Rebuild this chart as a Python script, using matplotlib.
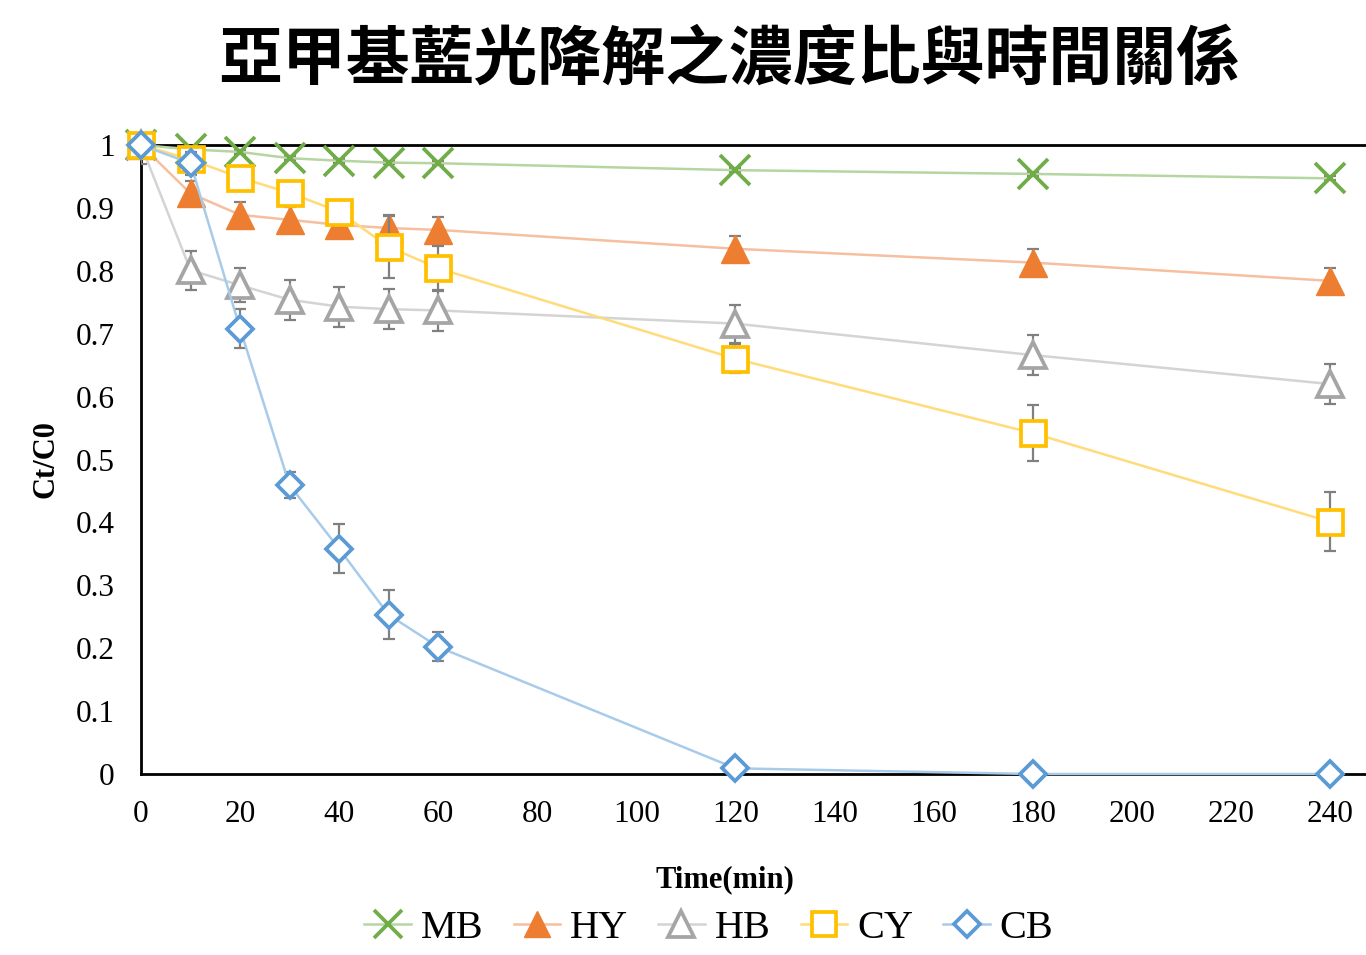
import matplotlib

matplotlib.use("Agg")
import matplotlib.pyplot as plt
import numpy as np

# ── data ────────────────────────────────────────────────────────────────
time_min = [0, 10, 20, 30, 40, 50, 60, 120, 180, 240]

mb = [1.0, 0.993, 0.989, 0.979, 0.975, 0.972, 0.971, 0.960, 0.954, 0.947]
mb_err = [0, 0.003, 0.003, 0.003, 0.003, 0.003, 0.003, 0.003, 0.003, 0.003]

hy = [1.0, 0.923, 0.889, 0.881, 0.873, 0.868, 0.865, 0.835, 0.813, 0.784]
hy_err = [0, 0.019, 0.02, 0.02, 0.02, 0.019, 0.02, 0.02, 0.021, 0.021]

hb = [1.0, 0.801, 0.777, 0.754, 0.743, 0.739, 0.737, 0.716, 0.666, 0.620]
hb_err = [0.03, 0.031, 0.027, 0.032, 0.032, 0.032, 0.032, 0.03, 0.032, 0.032]

cy = [1.0, 0.977, 0.948, 0.924, 0.894, 0.838, 0.804, 0.660, 0.542, 0.401]
cy_err = [0, 0.01, 0.01, 0.01, 0.015, 0.05, 0.036, 0.023, 0.044, 0.047]

cb = [1.0, 0.971, 0.708, 0.459, 0.358, 0.253, 0.202, 0.009, 0.0, 0.0]
cb_err = [0, 0.018, 0.031, 0.021, 0.039, 0.039, 0.023, 0, 0, 0]

names = ["MB", "HY", "HB", "CY", "CB"]
title = "亞甲基藍光降解之濃度比與時間關係"

x_ticks = list(range(0, 241, 20))
y_ticks = [0, 0.1, 0.2, 0.3, 0.4, 0.5, 0.6, 0.7, 0.8, 0.9, 1.0]
y_labels = ["0", "0.1", "0.2", "0.3", "0.4", "0.5", "0.6", "0.7", "0.8", "0.9", "1"]

# ── styles ──────────────────────────────────────────────────────────────
SERIF = ["Liberation Serif", "DejaVu Serif"]
styles = [
    dict(marker="x", ms=21, mew=2.7, mec="#70ad47", mfc="#70ad47", line="#b5d6a0"),
    dict(marker="^", ms=20, mew=1.0, mec="#ed7d31", mfc="#ed7d31", line="#f6bfa0"),
    dict(marker="^", ms=19, mew=2.7, mec="#a5a5a5", mfc="white", line="#d4d4d4"),
    dict(marker="s", ms=18, mew=2.7, mec="#ffc000", mfc="white", line="#ffdb7a"),
    dict(marker="D", ms=13.5, mew=2.7, mec="#5b9bd5", mfc="white", line="#a9cbea"),
]
series = [(mb, mb_err), (hy, hy_err), (hb, hb_err), (cy, cy_err), (cb, cb_err)]

# ── plot ────────────────────────────────────────────────────────────────
fig = plt.figure(figsize=(13.66, 9.55), dpi=100)
ax = fig.add_axes([141 / 1366, 181 / 955, 1225 / 1366, 629 / 955])

handles = []
for i, ((vals, errs), st, name) in enumerate(zip(series, styles, names)):
    z = 3 + i * 2
    ax.errorbar(time_min, vals, yerr=errs, fmt="none", ecolor="#808080",
                elinewidth=1.6, capsize=4.5, capthick=1.6, zorder=z)
    h, = ax.plot(time_min, vals, color=st["line"], lw=1.8,
                 marker=st["marker"], ms=st["ms"], mew=st["mew"],
                 mec=st["mec"], mfc=st["mfc"], zorder=z + 1,
                 label=name, clip_on=False)
    handles.append(h)

ax.set_xlim(0, 1225 / (1189 / 240))
ax.set_ylim(0, 1)
ax.set_xticks(x_ticks)
ax.set_yticks(y_ticks)
ax.set_yticklabels(y_labels)
ax.tick_params(axis="both", length=0, labelsize=22.5)
ax.tick_params(axis="y", pad=19)
ax.tick_params(axis="x", pad=19)
for lab in ax.get_xticklabels() + ax.get_yticklabels():
    lab.set_family(SERIF)

for side in ["left", "bottom", "top"]:
    ax.spines[side].set_linewidth(2)
    ax.spines[side].set_color("black")
ax.spines["right"].set_visible(False)

ax.set_xlabel("Time(min)", family=SERIF, fontsize=22, fontweight="bold")
ax.xaxis.set_label_coords(0.4767, -0.145)
ax.set_ylabel("Ct/C0", family=SERIF, fontsize=22, fontweight="bold")
ax.yaxis.set_label_coords(-0.066, 0.5)

fig.legend(handles=handles, loc="center", bbox_to_anchor=(0.519, 1 - 928 / 955),
           ncol=5, frameon=False, prop={"family": SERIF, "size": 29},
           handlelength=1.15, handletextpad=0.25, columnspacing=0.75,
           markerscale=0.95)

fig.text(0.534, 1 - 60 / 955, title, ha="center", va="center", fontsize=46,
         fontweight="bold", family=["Noto Sans CJK TC", "DejaVu Sans"])

fig.savefig("out.png", dpi=100)
